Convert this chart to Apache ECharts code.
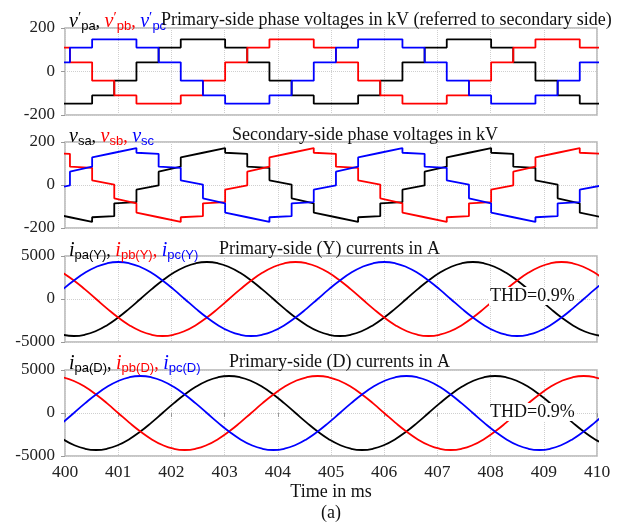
<!DOCTYPE html>
<html><head><meta charset="utf-8">
<script src="https://cdn.jsdelivr.net/npm/echarts@6/dist/echarts.min.js"></script>
<style>html,body{margin:0;padding:0;background:#fff}#c{width:621px;height:525px}</style>
</head><body><div id="c"></div>
<script>
// ---------- data ----------
const xTicks = [400,401,402,403,404,405,406,407,408,409,410];
const vTicks = [-200,0,200];
const iTicks = [-5000,0,5000];

// switching instants (ms) of the 12-step voltages
const stepT = [399.676,400.093,400.510,400.926,401.343,401.760,402.176,402.593,403.010,403.426,403.843,404.260,404.676,405.093,405.510,405.926,406.343,406.760,407.176,407.593,408.010,408.426,408.843,409.260,409.676,410.093];

// primary-side phase voltages (kV), level held during each interval
const vpaLevel = [-148,-148,-110,-42,42,110,148,148,110,42,-42,-110,-148,-148,-110,-42,42,110,148,148,110,42,-42,-110,-148];
const vpbLevel = [110,42,-42,-110,-148,-148,-110,-42,42,110,148,148,110,42,-42,-110,-148,-148,-110,-42,42,110,148,148,110];
const vpcLevel = [42,110,148,148,110,42,-42,-110,-148,-148,-110,-42,42,110,148,148,110,42,-42,-110,-148,-148,-110,-42,42];

// secondary-side phase voltages (kV): value at start / end of each interval
const vsaStart = [-128,-150,-150,-85,-22,62,128,150,150,85,22,-62,-128,-150,-150,-85,-22,62,128,150,150,85,22,-62,-128];
const vsaEnd   = [-150,-172,-145,-80,-2,85,150,172,145,80,2,-85,-150,-172,-145,-80,-2,85,150,172,145,80,2,-85,-150];
const vsbStart = [150,85,22,-62,-128,-150,-150,-85,-22,62,128,150,150,85,22,-62,-128,-150,-150,-85,-22,62,128,150,150];
const vsbEnd   = [145,80,2,-85,-150,-172,-145,-80,-2,85,150,172,145,80,2,-85,-150,-172,-145,-80,-2,85,150,172,145];
const vscStart = [-22,62,128,150,150,85,22,-62,-128,-150,-150,-85,-22,62,128,150,150,85,22,-62,-128,-150,-150,-85,-22];
const vscEnd   = [-2,85,150,172,145,80,2,-85,-150,-172,-145,-80,-2,85,150,172,145,80,2,-85,-150,-172,-145,-80,-2];

// current sample instants (ms)
const tI = [399.958,400.167,400.375,400.583,400.792,401.000,401.208,401.417,401.625,401.833,402.042,402.250,402.458,402.667,402.875,403.083,403.292,403.500,403.708,403.917,404.125,404.333,404.542,404.750,404.958,405.167,405.375,405.583,405.792,406.000,406.208,406.417,406.625,406.833,407.042,407.250,407.458,407.667,407.875,408.083,408.292,408.500,408.708,408.917,409.125,409.333,409.542,409.750,409.958,410.167];

// primary-side (Y) currents (A)
const ipaY = [-4154,-4300,-4154,-3724,-3041,-2150,-1113,0,1113,2150,3041,3724,4154,4300,4154,3724,3041,2150,1113,0,-1113,-2150,-3041,-3724,-4154,-4300,-4154,-3724,-3041,-2150,-1113,0,1113,2150,3041,3724,4154,4300,4154,3724,3041,2150,1113,0,-1113,-2150,-3041,-3724,-4154,-4300];
const ipbY = [3041,2150,1113,0,-1113,-2150,-3041,-3724,-4154,-4300,-4154,-3724,-3041,-2150,-1113,0,1113,2150,3041,3724,4154,4300,4154,3724,3041,2150,1113,0,-1113,-2150,-3041,-3724,-4154,-4300,-4154,-3724,-3041,-2150,-1113,0,1113,2150,3041,3724,4154,4300,4154,3724,3041,2150];
const ipcY = [1113,2150,3041,3724,4154,4300,4154,3724,3041,2150,1113,0,-1113,-2150,-3041,-3724,-4154,-4300,-4154,-3724,-3041,-2150,-1113,0,1113,2150,3041,3724,4154,4300,4154,3724,3041,2150,1113,0,-1113,-2150,-3041,-3724,-4154,-4300,-4154,-3724,-3041,-2150,-1113,0,1113,2150];

// primary-side (D) currents (A)
const ipaD = [-3041,-3724,-4154,-4300,-4154,-3724,-3041,-2150,-1113,0,1113,2150,3041,3724,4154,4300,4154,3724,3041,2150,1113,0,-1113,-2150,-3041,-3724,-4154,-4300,-4154,-3724,-3041,-2150,-1113,0,1113,2150,3041,3724,4154,4300,4154,3724,3041,2150,1113,0,-1113,-2150,-3041,-3724];
const ipbD = [4154,3724,3041,2150,1113,0,-1113,-2150,-3041,-3724,-4154,-4300,-4154,-3724,-3041,-2150,-1113,0,1113,2150,3041,3724,4154,4300,4154,3724,3041,2150,1113,0,-1113,-2150,-3041,-3724,-4154,-4300,-4154,-3724,-3041,-2150,-1113,0,1113,2150,3041,3724,4154,4300,4154,3724];
const ipcD = [-1113,0,1113,2150,3041,3724,4154,4300,4154,3724,3041,2150,1113,0,-1113,-2150,-3041,-3724,-4154,-4300,-4154,-3724,-3041,-2150,-1113,0,1113,2150,3041,3724,4154,4300,4154,3724,3041,2150,1113,0,-1113,-2150,-3041,-3724,-4154,-4300,-4154,-3724,-3041,-2150,-1113,0];

// ---------- build ----------
const K = '#000000', R = '#ff0000', B = '#0000ff';
const SERIF = '"Liberation Serif", "Times New Roman", serif';
const SANS = '"Liberation Sans", Arial, sans-serif';

function stepData(level){
  const d = level.map((v,i)=>[stepT[i], v]);
  d.push([stepT[level.length], level[level.length-1]]);
  return d;
}
function rampData(s,e){
  const d = [];
  for (let i=0;i<s.length;i++){ d.push([stepT[i], s[i]]); d.push([stepT[i+1], e[i]]); }
  return d;
}
function pairs(t,v){ return v.map((y,i)=>[t[i], y]); }

const rich = {};
[['K',K],['R',R],['B',B]].forEach(([n,c])=>{
  rich['v'+n] = {fontFamily:SERIF, fontStyle:'italic', fontWeight:'normal', fontSize:20, color:c, lineHeight:22, verticalAlign:'middle'};
  rich['p'+n] = {fontFamily:SERIF, fontWeight:'normal', fontSize:15, color:c, lineHeight:22, verticalAlign:'top'};
  rich['s'+n] = {fontFamily:SANS, fontWeight:'normal', fontSize:13, color:c, lineHeight:12, verticalAlign:'bottom'};
  rich['c'+n] = {fontFamily:SERIF, fontWeight:'normal', fontSize:18, color:c, lineHeight:22, verticalAlign:'middle'};
});

const gridTops = [28,142,256,370];
const gridH = [87,86,86,86];
const grids = gridTops.map((t,i)=>({left:65,right:24,top:t,height:gridH[i],show:true,borderColor:'#b4b4b4',borderWidth:1.5}));

const xAxes = gridTops.map((t,i)=>({
  type:'value', gridIndex:i, min:xTicks[0], max:xTicks[xTicks.length-1], interval:xTicks[1]-xTicks[0],
  axisLine:{show:false},
  axisTick:{show:i===3, length:4, lineStyle:{color:'#999'}},
  axisLabel:{show:i===3, fontFamily:SERIF, fontSize:17.5, color:'#222', margin:7, formatter:v=>String(v)},
  splitLine:{show:true, lineStyle:{type:'dotted', color:'#cfcfcf', width:1}}
}));
const yAxes = gridTops.map((t,i)=>{
  const tk = i<2 ? vTicks : iTicks;
  return {
    type:'value', gridIndex:i, min:tk[0], max:tk[tk.length-1], interval:tk[1]-tk[0],
    axisLine:{show:false},
    axisTick:{show:true, length:4, lineStyle:{color:'#999'}},
    axisLabel:{fontFamily:SERIF, fontSize:17, color:'#222', margin:10, formatter:v=>String(v)},
    splitLine:{show:true, lineStyle:{type:'dotted', color:'#cfcfcf', width:1}}
  };
});

function ln(idx, color, data, step){
  const s = {type:'line', xAxisIndex:idx, yAxisIndex:idx, data, symbol:'none', clip:true,
    lineStyle:{color, width:1.8}, itemStyle:{color}};
  if (step) s.step = step;
  return s;
}

const series = [
  ln(0,K,stepData(vpaLevel),'end'), ln(0,R,stepData(vpbLevel),'end'), ln(0,B,stepData(vpcLevel),'end'),
  ln(1,K,rampData(vsaStart,vsaEnd)), ln(1,R,rampData(vsbStart,vsbEnd)), ln(1,B,rampData(vscStart,vscEnd)),
  Object.assign(ln(2,K,pairs(tI,ipaY)),{smooth:0.5}), Object.assign(ln(2,R,pairs(tI,ipbY)),{smooth:0.5}), Object.assign(ln(2,B,pairs(tI,ipcY)),{smooth:0.5}),
  Object.assign(ln(3,K,pairs(tI,ipaD)),{smooth:0.5}), Object.assign(ln(3,R,pairs(tI,ipbD)),{smooth:0.5}), Object.assign(ln(3,B,pairs(tI,ipcD)),{smooth:0.5})
];

const descStyle = {fontFamily:SERIF, fontSize:18, fontWeight:'normal', color:'#111'};
const titles = [
  {left:64, top:6, text:'{vK|v}{pK|′}{sK|pa}{cK|, }{vR|v}{pR|′}{sR|pb}{cR|, }{vB|v}{pB|′}{sB|pc}', textStyle:{rich}},
  {left:156, top:6, text:'Primary-side phase voltages in kV (referred to secondary side)', textStyle:descStyle},
  {left:64, top:121, text:'{vK|v}{sK|sa}{cK|, }{vR|v}{sR|sb}{cR|, }{vB|v}{sB|sc}', textStyle:{rich}},
  {left:227, top:121, text:'Secondary-side phase voltages in kV', textStyle:descStyle},
  {left:64, top:235, text:'{vK|i}{sK|pa(Y)}{cK|, }{vR|i}{sR|pb(Y)}{cR|, }{vB|i}{sB|pc(Y)}', textStyle:{rich}},
  {left:214, top:235, text:'Primary-side (Y) currents in A', textStyle:descStyle},
  {left:64, top:348, text:'{vK|i}{sK|pa(D)}{cK|, }{vR|i}{sR|pb(D)}{cR|, }{vB|i}{sB|pc(D)}', textStyle:{rich}},
  {left:224, top:348, text:'Primary-side (D) currents in A', textStyle:descStyle},
  {left:489, top:287, text:'THD=0.9%', backgroundColor:'#fff', padding:[0,1], textStyle:{fontFamily:SERIF, fontSize:18, fontWeight:'normal', color:'#111'}},
  {left:489, top:403, text:'THD=0.9%', backgroundColor:'#fff', padding:[0,1], textStyle:{fontFamily:SERIF, fontSize:18, fontWeight:'normal', color:'#111'}}
];

const chart = echarts.init(document.getElementById('c'), null, {renderer:'canvas'});
chart.setOption({
  animation:false,
  backgroundColor:'#fff',
  title:titles,
  grid:grids, xAxis:xAxes, yAxis:yAxes, series,
  graphic:[
    {type:'text', x:331, y:492, style:{text:'Time in ms', fontFamily:SERIF, fontSize:18, fill:'#111', align:'center', verticalAlign:'middle'}},
    {type:'text', x:331, y:513, style:{text:'(a)', fontFamily:SERIF, fontSize:18, fill:'#111', align:'center', verticalAlign:'middle'}}
  ]
});
</script></body></html>
